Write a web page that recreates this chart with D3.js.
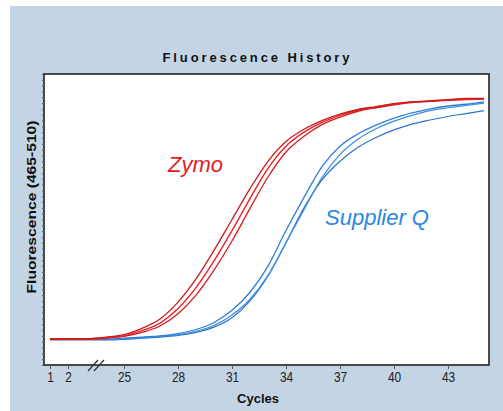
<!DOCTYPE html>
<html>
<head>
<meta charset="utf-8">
<script src="https://cdn.jsdelivr.net/npm/d3@7"></script>
<style>
  html, body { margin: 0; padding: 0; background: #fff; }
  svg { display: block; }
</style>
</head>
<body>
<svg width="503" height="411"></svg>
<script>
const width = 503, height = 411;
const svg = d3.select("svg");

// cycles plotted (3-22 are cut out by the axis break)
const cycles = [1, 2, 23, 24, 25, 26, 27, 28, 29, 30, 31, 32, 33, 34, 35, 36, 37, 38, 39, 40, 41, 42, 43, 44, 45];
const tickCycles = [1, 2, 25, 28, 31, 34, 37, 40, 43];

// Zymo replicates
const zymo1 = [4.5, 4.5, 4.5, 4.8, 5.2, 6.3, 7.9, 10.8, 14.8, 19.7, 25.0, 30.3, 35.0, 38.4, 40.5, 42.0, 43.1, 43.9, 44.4, 44.9, 45.2, 45.4, 45.6, 45.8, 45.8];
const zymo2 = [4.5, 4.5, 4.5, 4.7, 5.0, 5.9, 7.2, 9.7, 13.3, 17.9, 23.1, 28.6, 33.8, 37.6, 40.0, 41.7, 42.9, 43.8, 44.3, 44.8, 45.2, 45.3, 45.5, 45.7, 45.7];
const zymo3 = [4.4, 4.4, 4.4, 4.6, 4.9, 5.6, 6.7, 8.8, 12.0, 16.3, 21.3, 26.9, 32.3, 36.6, 39.3, 41.3, 42.6, 43.6, 44.2, 44.7, 45.1, 45.3, 45.5, 45.6, 45.7];

// Supplier Q replicates
const suppQ1 = [4.4, 4.4, 4.4, 4.4, 4.6, 4.8, 5.0, 5.4, 6.1, 7.3, 9.4, 12.5, 17.0, 23.1, 28.8, 34.1, 37.6, 39.7, 41.2, 42.4, 43.3, 44.0, 44.5, 44.8, 45.2];
const suppQ2 = [4.4, 4.4, 4.4, 4.4, 4.5, 4.7, 4.9, 5.2, 5.8, 6.8, 8.6, 11.3, 15.4, 21.0, 26.7, 32.2, 36.2, 38.8, 40.6, 41.9, 42.9, 43.7, 44.2, 44.6, 45.0];
const suppQ3 = [4.3, 4.3, 4.3, 4.3, 4.4, 4.6, 4.8, 5.1, 5.6, 6.5, 8.1, 11.0, 15.3, 21.0, 27.0, 31.8, 35.0, 37.4, 39.1, 40.4, 41.4, 42.1, 42.7, 43.2, 43.7];

const plot = { left: 44, top: 74, right: 489, bottom: 365 };

// background panel
svg.append("rect").attr("x", 10).attr("y", 6).attr("width", width - 10).attr("height", height - 6).attr("fill", "#c3d4e5");

// plot area
svg.append("rect")
  .attr("x", plot.left).attr("y", plot.top)
  .attr("width", plot.right - plot.left).attr("height", plot.bottom - plot.top)
  .attr("fill", "#fff");

// x: broken axis, piecewise linear
const x = d3.scaleLinear().domain([1, 2, 23, 45]).range([50, 68, 88, 484]);
const y = d3.scaleLinear().domain([0, 50]).range([plot.bottom, plot.top]);

const line = d3.line()
  .x((d, i) => x(cycles[i]))
  .y(d => y(d))
  .curve(d3.curveMonotoneX);

const series = [
  { values: suppQ3, color: "#2a74cc", w: 1.2 },
  { values: suppQ2, color: "#3b8ede", w: 1.2 },
  { values: suppQ1, color: "#2f80d6", w: 1.3 },
  { values: zymo3, color: "#d51a1f", w: 1.3 },
  { values: zymo2, color: "#e8222a", w: 1.4 },
  { values: zymo1, color: "#cc1a1a", w: 1.3 }
];

svg.append("g").selectAll("path")
  .data(series)
  .enter()
  .append("path")
  .attr("d", d => line(d.values))
  .attr("fill", "none")
  .attr("stroke", d => d.color)
  .attr("stroke-width", d => d.w);

// frame
svg.append("rect")
  .attr("x", plot.left).attr("y", plot.top)
  .attr("width", plot.right - plot.left).attr("height", plot.bottom - plot.top)
  .attr("fill", "none").attr("stroke", "#222").attr("stroke-width", 1.6);

// y axis: unlabelled minor ticks
const yAxis = d3.axisLeft(y).tickValues(d3.range(0, 51, 1)).tickSize(2).tickFormat("");
const yg = svg.append("g").attr("transform", `translate(${plot.left},0)`).call(yAxis);
yg.select(".domain").remove();
yg.selectAll("line").attr("stroke", "#555");

// x axis
const xAxis = d3.axisBottom(x).tickValues(tickCycles).tickSize(4).tickPadding(3).tickFormat(d3.format("d"));
const xg = svg.append("g").attr("transform", `translate(0,${plot.bottom})`).call(xAxis);
xg.select(".domain").remove();
xg.selectAll("line").attr("stroke", "#555");
xg.selectAll("text")
  .attr("fill", "#222")
  .attr("transform", "scale(0.82,1)")
  .style("font-family", "'Liberation Sans', Arial, sans-serif")
  .style("font-size", "14.5px");

// axis break mark
const bx = (x(2) + x(25)) / 2;
[-3, 3].forEach(off => {
  svg.append("line")
    .attr("x1", bx + off - 5).attr("y1", plot.bottom + 6)
    .attr("x2", bx + off + 5).attr("y2", plot.bottom - 5)
    .attr("stroke", "#333").attr("stroke-width", 1.2);
});

// title
svg.append("text")
  .attr("x", 256).attr("y", 62)
  .attr("text-anchor", "middle")
  .attr("textLength", 187).attr("lengthAdjust", "spacing")
  .style("font-family", "'Liberation Sans', Arial, sans-serif")
  .style("font-weight", "bold").style("font-size", "13px")
  .attr("fill", "#111")
  .text("Fluorescence History");

// axis titles
svg.append("text")
  .attr("x", 258).attr("y", 403)
  .attr("text-anchor", "middle")
  .style("font-family", "'Liberation Sans', Arial, sans-serif")
  .style("font-weight", "bold").style("font-size", "13px")
  .attr("fill", "#111")
  .text("Cycles");

svg.append("text")
  .attr("transform", "translate(36,207) rotate(-90)")
  .attr("text-anchor", "middle")
  .attr("textLength", 173).attr("lengthAdjust", "spacingAndGlyphs")
  .style("font-family", "'Liberation Sans', Arial, sans-serif")
  .style("font-weight", "bold").style("font-size", "12px")
  .attr("fill", "#111")
  .text("Fluorescence (465-510)");

// series labels
svg.append("text")
  .attr("x", 168).attr("y", 172)
  .style("font-family", "'Liberation Sans', Arial, sans-serif")
  .style("font-style", "italic").style("font-size", "22px")
  .attr("fill", "#e01c22")
  .text("Zymo");

svg.append("text")
  .attr("x", 325).attr("y", 225)
  .style("font-family", "'Liberation Sans', Arial, sans-serif")
  .style("font-style", "italic").style("font-size", "22px")
  .attr("fill", "#2b86e0")
  .text("Supplier Q");
</script>
</body>
</html>
